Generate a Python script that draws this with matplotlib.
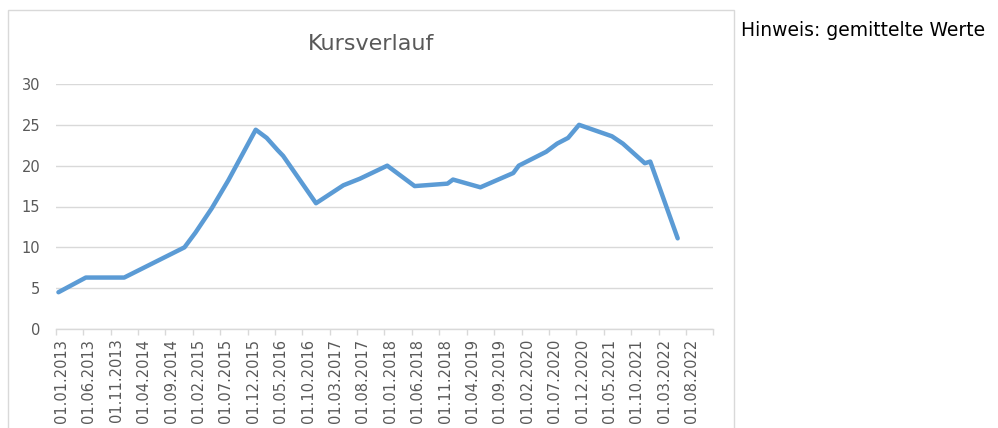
import pandas as pd
import matplotlib
matplotlib.use("Agg")
import matplotlib.pyplot as plt
import matplotlib.transforms as mtransforms
from matplotlib.patches import Rectangle

# Kurswerte (gemittelt)
dates = ["01.01.2013", "01.06.2013", "01.01.2014", "01.12.2014", "01.02.2015",
         "01.05.2015", "01.08.2015", "01.01.2016", "01.03.2016", "01.05.2016",
         "01.06.2016", "01.12.2016", "01.05.2017", "01.08.2017", "01.01.2018",
         "01.06.2018", "01.12.2018", "01.01.2019", "01.06.2019", "01.12.2019",
         "01.01.2020", "01.06.2020", "01.08.2020", "01.10.2020", "01.12.2020",
         "01.06.2021", "01.08.2021", "01.10.2021", "01.12.2021", "01.01.2022",
         "01.06.2022"]
values = [4.5, 6.3, 6.3, 10.0, 11.8,
          14.8, 18.2, 24.4, 23.4, 21.9,
          21.2, 15.4, 17.6, 18.4, 20.0,
          17.5, 17.8, 18.3, 17.35, 19.1,
          20.0, 21.7, 22.7, 23.4, 25.0,
          23.6, 22.7, 21.5, 20.3, 20.5,
          11.1]
tick_dates = pd.date_range("2013-01-01", "2022-08-01", freq="5MS")
tick_labels = [d.strftime("%d.%m.%Y") for d in tick_dates]

start = pd.Timestamp("2013-01-01")


def month_index(ts):
    return (ts.year - start.year) * 12 + (ts.month - start.month)


d = pd.to_datetime(dates, format="%d.%m.%Y")
x = [month_index(t) + 0.5 for t in d]

W, H = 998, 428
fig = plt.figure(figsize=(W / 100, H / 100), dpi=100)
ax = fig.add_axes([55.7 / W, 1 - 329 / H, (713.3 - 55.7) / W, (329 - 84) / H])

grey = "#D9D9D9"
txt = "#595959"

ax.plot(x, values, color="#5B9BD5", lw=3.2, solid_joinstyle="round",
        solid_capstyle="round", zorder=3)

ax.set_xlim(0, 120)
ax.set_ylim(0, 30)
ax.set_yticks(range(0, 31, 5))
ax.grid(axis="y", color=grey, lw=1)
ax.set_axisbelow(True)

for s in ["top", "right", "left"]:
    ax.spines[s].set_visible(False)
ax.spines["bottom"].set_color(grey)
ax.spines["bottom"].set_linewidth(1)

# tick marks at bin edges, labels shifted onto the bins
ax.set_xticks(range(0, 121, 5))
ax.set_xticklabels([])
ax.tick_params(axis="x", which="major", length=4, width=1, color=grey)
ax.set_xticks([month_index(t) + 0.5 for t in tick_dates], minor=True)
ax.set_xticklabels(tick_labels, minor=True, rotation=90, fontsize=10.5,
                   color=txt, va="top", ha="center")
ax.tick_params(axis="x", which="minor", length=0, pad=7)
offset = mtransforms.ScaledTranslation(3 / 100, 0, fig.dpi_scale_trans)
for lab in ax.get_xticklabels(minor=True):
    lab.set_transform(lab.get_transform() + offset)

ax.tick_params(axis="y", length=0, pad=11, labelsize=10.5, labelcolor=txt)

fig.text(371 / W, 1 - 44 / H, "Kursverlauf", ha="center", va="center",
         fontsize=16, color=txt)
fig.text(741 / W, 1 - 31 / H, "Hinweis: gemittelte Werte", ha="left",
         va="center", fontsize=13.5, color="black")

fig.patches.append(Rectangle((8 / W, -0.05), (734 - 8) / W, 1 - 10 / H + 0.05,
                             transform=fig.transFigure, fill=False,
                             edgecolor=grey, lw=1))

fig.savefig("out.png", dpi=100)
